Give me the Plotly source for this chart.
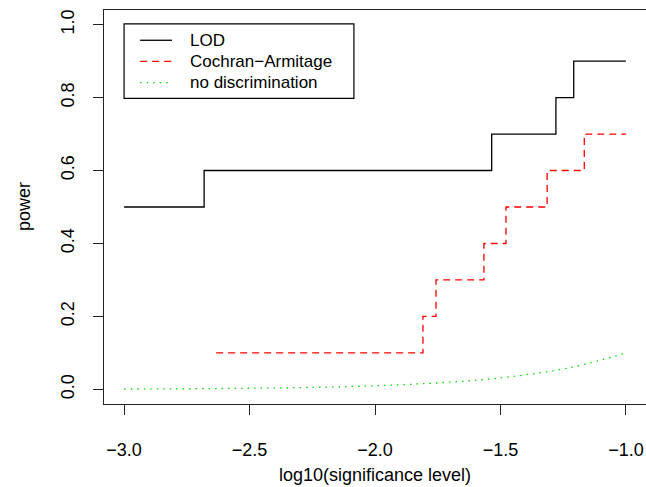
import plotly.graph_objects as go

# ---- data ----
lod_x = [-3.0, -2.681, -1.535, -1.279, -1.208, -1.0]
lod_y = [0.5, 0.6, 0.7, 0.8, 0.9, 0.9]

ca_x = [-2.633, -1.809, -1.757, -1.566, -1.478, -1.314, -1.166, -1.0]
ca_y = [0.1, 0.2, 0.3, 0.4, 0.5, 0.6, 0.7, 0.7]

nd_x = [-3.0, -2.8, -2.6, -2.4, -2.2, -2.0, -1.8, -1.6, -1.4, -1.2, -1.0]
nd_y = [0.001, 0.0016, 0.0025, 0.004, 0.0063, 0.010, 0.016, 0.025, 0.040, 0.063, 0.100]

x_ticks = [-3.0, -2.5, -2.0, -1.5, -1.0]
y_ticks = [0.0, 0.2, 0.4, 0.6, 0.8, 1.0]

legend_labels = ["LOD", "Cochran\u2212Armitage", "no discrimination"]

FONT = "Liberation Sans, Arial, Helvetica, sans-serif"
FS = 18
FS_LEG = 17
FS_TICK = 18

fig = go.Figure()
fig.add_trace(go.Scatter(x=lod_x, y=lod_y, mode="lines", line_shape="hv",
                         line=dict(color="black", width=1.3), showlegend=False))
fig.add_trace(go.Scatter(x=ca_x, y=ca_y, mode="lines", line_shape="hv",
                         line=dict(color="#ff0000", width=1.3, dash="7px,5px"), showlegend=False))
fig.add_trace(go.Scatter(x=nd_x, y=nd_y, mode="lines", line_shape="spline",
                         line=dict(color="#00dd00", width=1.3, dash="1.5px,5px"), showlegend=False))

# ---- legend drawn by hand, R style ----
lx0, lx1 = -3.0, -2.084
ly0, ly1 = 0.798, 1.002
fig.add_shape(type="rect", xref="x", yref="y", x0=lx0, x1=lx1, y0=ly0, y1=ly1,
              line=dict(color="black", width=1.2), fillcolor="rgba(0,0,0,0)")
rows = [0.957, 0.899, 0.841]
styles = [dict(color="black", width=1.3),
          dict(color="#ff0000", width=1.3, dash="7px,5px"),
          dict(color="#00dd00", width=1.3, dash="1.5px,5px")]
for yy, st, lab in zip(rows, styles, legend_labels):
    fig.add_shape(type="line", xref="x", yref="y", x0=-2.936, x1=-2.809, y0=yy, y1=yy, line=st)
    fig.add_annotation(x=-2.741, y=yy, xref="x", yref="y", text=lab, showarrow=False,
                       xanchor="left", yanchor="middle", borderpad=0,
                       font=dict(family=FONT, size=FS_LEG, color="black"))

# axis titles
fig.add_annotation(x=-2.0, y=-0.18, xref="x", yref="paper", text="log10(significance level)",
                   showarrow=False, xanchor="center", yanchor="middle",
                   font=dict(family=FONT, size=FS, color="black"))
fig.add_annotation(x=-0.1476, y=0.5, xref="paper", yref="paper", text="power", textangle=-90,
                   showarrow=False, xanchor="center", yanchor="middle",
                   font=dict(family=FONT, size=FS, color="black"))

fig.update_layout(
    width=646, height=487,
    margin=dict(l=104, r=0, t=10, b=83),
    paper_bgcolor="white", plot_bgcolor="white",
    font=dict(family=FONT, size=FS_TICK, color="black"),
    showlegend=False,
    xaxis=dict(range=[-3.08, -0.92], tickvals=x_ticks, tickformat=".1f",
               showgrid=False, zeroline=False, showline=True, mirror=True,
               linecolor="#222", linewidth=1.2, ticks="outside", ticklen=10,
               tickcolor="#222", tickwidth=1.2, ticklabelstandoff=19),
    yaxis=dict(range=[-0.04, 1.04], tickvals=y_ticks, tickformat=".1f",
               showgrid=False, zeroline=False, showline=True, mirror=True,
               linecolor="#222", linewidth=1.2, ticks="outside", ticklen=10,
               tickcolor="#222", tickwidth=1.2, tickangle=-90, ticklabelstandoff=12),
)

fig.write_html("out.html", config={"displayModeBar": False},
               post_script="document.body.style.margin='0';document.body.style.overflow='hidden';")
